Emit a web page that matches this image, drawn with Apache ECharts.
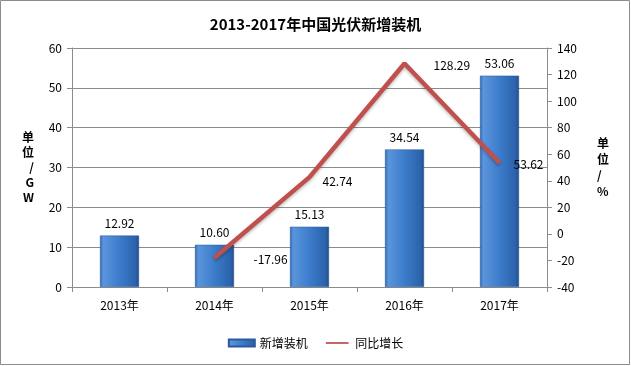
<!DOCTYPE html>
<html><head><meta charset="utf-8">
<script src="https://cdn.jsdelivr.net/npm/echarts@6/dist/echarts.min.js"></script>
<style>html,body{margin:0;padding:0;background:#fff}#c{width:631px;height:366px}</style>
</head><body><div id="c"></div>
<script>
const categories = ['2013年','2014年','2015年','2016年','2017年'];
const newInstalled = [12.92, 10.60, 15.13, 34.54, 53.06];
const yoyGrowth = [null, -17.96, 42.74, 128.29, 53.62];
const leftTicks = [0, 60, 10];
const rightTicks = [-40, 140, 20];
const labelOffsets = [[0,0],[34,2],[8,4],[24,2],[9,2]];

const font = '"Microsoft YaHei","Noto Sans CJK SC",sans-serif';
const chart = echarts.init(document.getElementById('c'), null, {renderer:'canvas'});
chart.setOption({
  animation:false,
  backgroundColor:'#fff',
  textStyle:{fontFamily:font},
  title:{text:'2013-2017年中国光伏新增装机',left:'center',top:12,
    textStyle:{fontSize:15,fontWeight:'bold',color:'#000',fontFamily:font}},
  graphic:[{type:'rect',shape:{x:0.5,y:0.5,width:629,height:364},
    style:{fill:'none',stroke:'#8c8c8c',lineWidth:1},silent:true}],
  legend:{bottom:12,left:'center',itemGap:18,itemWidth:26,itemHeight:7,
    textStyle:{fontSize:12,color:'#000',fontFamily:font},
    data:[{name:'新增装机',icon:'rect'},
          {name:'同比增长',icon:'path://M0,0 M0,3 L26,3 L26,5 L0,5 Z M26,8',itemStyle:{color:'#c0504d',opacity:1}}]},
  grid:{left:72,right:84,top:48,bottom:79},
  xAxis:{type:'category',data:categories,boundaryGap:true,
    axisLine:{lineStyle:{color:'#8c8c8c'}},
    axisTick:{show:true,inside:false,length:5,lineStyle:{color:'#8c8c8c'}},
    axisLabel:{fontSize:12,color:'#000',margin:12}},
  yAxis:[
    {type:'value',min:leftTicks[0],max:leftTicks[1],interval:leftTicks[2],
     name:'单\n位\n/\nG\nW',nameLocation:'middle',nameGap:38,nameRotate:0,
     nameTextStyle:{fontSize:12,fontWeight:'bold',color:'#000',lineHeight:15},
     axisLine:{show:true,lineStyle:{color:'#8c8c8c'}},
     axisTick:{show:true,length:5,lineStyle:{color:'#8c8c8c'}},
     axisLabel:{fontSize:12,color:'#000',margin:10},
     splitLine:{show:true,lineStyle:{color:'#8c8c8c',width:1}}},
    {type:'value',min:rightTicks[0],max:rightTicks[1],interval:rightTicks[2],
     name:'单\n位\n/\n%',nameLocation:'middle',nameGap:50,nameRotate:0,
     nameTextStyle:{fontSize:12,fontWeight:'bold',color:'#000',lineHeight:16},
     axisLine:{show:true,lineStyle:{color:'#8c8c8c'}},
     axisTick:{show:true,length:5,lineStyle:{color:'#8c8c8c'}},
     axisLabel:{fontSize:12,color:'#000',margin:10},
     splitLine:{show:false}}
  ],
  series:[
    {name:'新增装机',type:'bar',yAxisIndex:0,data:newInstalled,barWidth:39,
     itemStyle:{color:new echarts.graphic.LinearGradient(0,0,1,0,[
        {offset:0,color:'#2d64ad'},{offset:0.08,color:'#5b95dc'},
        {offset:0.5,color:'#3c7ccb'},{offset:0.92,color:'#2b62aa'},{offset:1,color:'#1d4a88'}]),
       borderColor:'#2a5a9c',borderWidth:0.5},
     label:{show:true,position:'top',distance:6,fontSize:12,color:'#000',
       formatter:p=>p.value.toFixed(2)}},
    {name:'同比增长',type:'line',yAxisIndex:1,
     data:yoyGrowth.map((v,i)=>({value:v,label:{offset:labelOffsets[i]}})),
     symbol:'circle',symbolSize:2,showSymbol:true,connectNulls:false,
     lineStyle:{color:'#c0504d',width:4.5,shadowColor:'rgba(0,0,0,0.25)',shadowBlur:3,shadowOffsetY:2},
     itemStyle:{color:'#c0504d',opacity:1},
     label:{show:true,position:'right',distance:4,fontSize:12,color:'#000',
       formatter:p=>p.value==null?'':p.value.toFixed(2)}}
  ]
});
</script></body></html>
